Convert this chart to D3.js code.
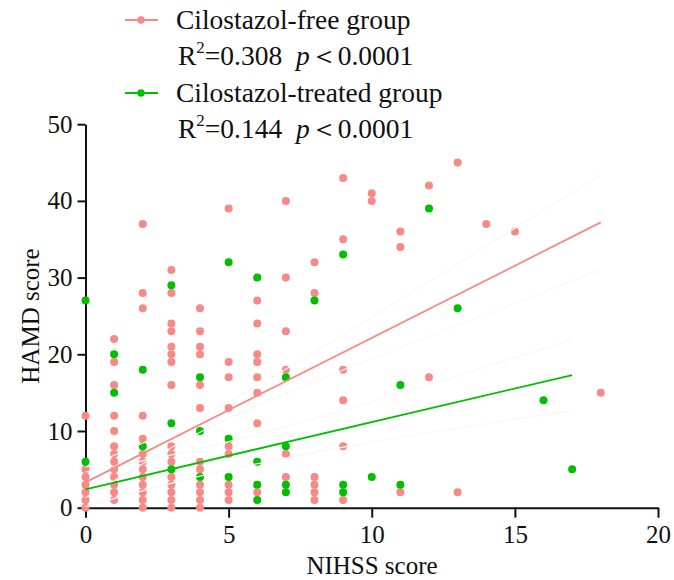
<!DOCTYPE html>
<html>
<head>
<meta charset="utf-8">
<script src="https://cdn.jsdelivr.net/npm/d3@7"></script>
<style>
  body{margin:0;background:#fff;}
  #chart text{font-family:'Liberation Serif','DejaVu Serif','Times New Roman',serif !important;}
</style>
</head>
<body>
<svg id="chart" width="674" height="580"></svg>
<script>
// NIHSS (x) vs HAMD (y)
const freeX = [0,0,0,0,0,0,0, 1,1,1,1,1,1,1,1,1,1,1,1,1, 2,2,2,2,2,2,2,2,2,2,2,2,2,
  3,3,3,3,3,3,3,3,3,3,3,3,3,3,3,3, 4,4,4,4,4,4,4,4,4,4,4,4, 5,5,5,5,5,5,5,5,5,
  6,6,6,6,6,6,6,6, 7,7,7,7,7,7, 8,8,8,8,8,8, 9,9,9,9,9,9, 10,10, 11,11,11, 12,12, 13,13, 14, 15, 18]
const freeY = [0,1,2,3,4,5,12, 1,2,3,4,5,6,7,8,10,12,16,19,22, 0,1,2,3,4,5,6,7,9,12,26,28,37,
  0,1,2,3,4,6,7,8,16,19,20,21,23,24,28,31, 0,1,2,3,5,6,13,16,20,21,23,26, 1,2,3,7,8,13,17,19,39,
  2,11,15,17,19,20,24,27, 4,7,18,23,30,40, 1,2,3,4,28,32, 1,8,14,18,35,43, 40,41, 2,34,36, 17,42, 2,45, 37, 36, 15]

const treatedX = [0,0, 1,1, 2,2, 3,3,3, 4,4,4, 5,5,5, 6,6,6,6, 7,7,7,7, 8, 9,9,9, 10, 11,11, 12, 13, 16, 17]
const treatedY = [6,27, 15,20, 8,18, 5,11,29, 4,10,17, 4,9,32, 1,3,6,30, 2,3,8,17, 27, 2,3,33, 4, 3,16, 39, 26, 14, 5]

// fitted lines and their 95% bands (half-widths), read at a few x positions
const fitFreeX = [0,18], fitFreeY = [3.3,37.2]
const bandFreeX = [0,4,9,13,18], bandFreeHalf = [2.0,1.0,2.3,4.0,6.2]
const fitTreatedX = [0,17], fitTreatedY = [2.4,17.3]
const bandTreatedX = [0,4,9,13,17], bandTreatedHalf = [2.25,1.8,2.4,3.4,4.65]

const xTicks = [0,5,10,15,20]
const yTicks = [0,10,20,30,40,50]

const pink = "#f78a86", green = "#00bf00"

const svg = d3.select("#chart")
const x = d3.scaleLinear().domain([0,20]).range([85.5,658])
const y = d3.scaleLinear().domain([0,50]).range([507.7,124.2])

function fitAt(fx,fy,v){ return fy[0]+(fy[1]-fy[0])*(v-fx[0])/(fx[1]-fx[0]) }

function drawBand(fx,fy,bx,bh,col){
  [1,-1].forEach(sg=>{
    const pts = bx.map((v,i)=>[v, fitAt(fx,fy,v)+sg*bh[i]])
    svg.append("path")
      .attr("d", d3.line().x(d=>x(d[0])).y(d=>y(d[1])).curve(d3.curveMonotoneX)(pts))
      .attr("fill","none").attr("stroke",col).attr("stroke-width",1.2)
  })
}

// axes
const gx = svg.append("g").attr("transform",`translate(0,${y(0)})`)
  .call(d3.axisBottom(x).tickValues(xTicks).tickSize(10).tickSizeOuter(0).tickPadding(8))
const gy = svg.append("g").attr("transform",`translate(${x(0)},0)`)
  .call(d3.axisLeft(y).tickValues(yTicks).tickSize(8).tickSizeOuter(0).tickPadding(5))
;[gx,gy].forEach(g=>{
  g.attr("font-size",25)
  g.selectAll("path,line").attr("stroke","#111").attr("stroke-width",2)
  g.selectAll("text").attr("fill","#111")
})

svg.append("text").attr("x",372).attr("y",574).attr("text-anchor","middle")
  .attr("font-size",25).attr("fill","#111").text("NIHSS score")
svg.append("text").attr("transform","translate(39,316) rotate(-90)").attr("text-anchor","middle")
  .attr("font-size",25).attr("fill","#111").text("HAMD score")

// dots
svg.append("g").selectAll("circle").data(freeX.map((v,i)=>[v,freeY[i]])).enter()
  .append("circle").attr("cx",d=>x(d[0])).attr("cy",d=>y(d[1])).attr("r",4).attr("fill",pink)
svg.append("g").selectAll("circle").data(treatedX.map((v,i)=>[v,treatedY[i]])).enter()
  .append("circle").attr("cx",d=>x(d[0])).attr("cy",d=>y(d[1])).attr("r",4).attr("fill",green)

// confidence bands (very faint) and fit lines
drawBand(fitFreeX,fitFreeY,bandFreeX,bandFreeHalf,"#fbf6f6")
drawBand(fitTreatedX,fitTreatedY,bandTreatedX,bandTreatedHalf,"#f5f9f5")
svg.append("line").attr("x1",x(fitFreeX[0])).attr("y1",y(fitFreeY[0]))
  .attr("x2",x(fitFreeX[1])).attr("y2",y(fitFreeY[1])).attr("stroke",pink).attr("stroke-width",1.8)
svg.append("line").attr("x1",x(fitTreatedX[0])).attr("y1",y(fitTreatedY[0]))
  .attr("x2",x(fitTreatedX[1])).attr("y2",y(fitTreatedY[1])).attr("stroke",green).attr("stroke-width",1.8)

// legend
const legend = [
  {name:"Cilostazol-free group", r2:"0.308", col:pink, yy:20},
  {name:"Cilostazol-treated group", r2:"0.144", col:green, yy:93}
]
legend.forEach(l=>{
  svg.append("line").attr("x1",125).attr("x2",158).attr("y1",l.yy).attr("y2",l.yy)
    .attr("stroke",l.col).attr("stroke-width",1.8)
  svg.append("circle").attr("cx",141).attr("cy",l.yy).attr("r",3.7).attr("fill",l.col)
  svg.append("text").attr("x",176).attr("y",l.yy+9)
    .attr("font-size",27.5).attr("fill","#111").text(l.name)
  const t = svg.append("text").attr("x",178).attr("y",l.yy+45)
    .attr("font-size",27.5).attr("fill","#111")
  t.append("tspan").text("R")
  t.append("tspan").attr("font-size",17).attr("dy",-12).text("2")
  t.append("tspan").attr("dy",12).text("=" + l.r2 + "\u00a0\u00a0")
  t.append("tspan").attr("font-style","italic").text("p")
  t.append("tspan").text("\uff1c0.0001")
})
</script>
</body>
</html>
